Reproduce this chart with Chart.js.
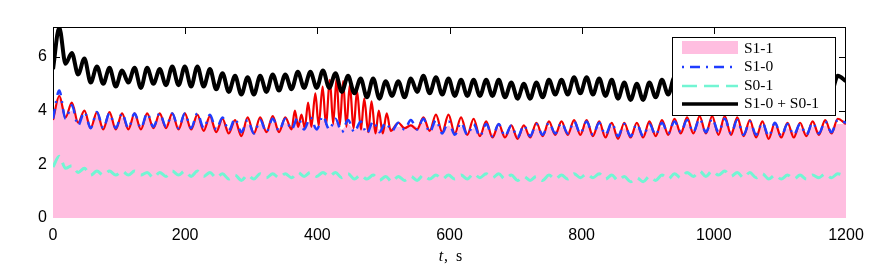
<!DOCTYPE html>
<html>
<head>
<meta charset="utf-8">
<script src="https://cdn.jsdelivr.net/npm/chart.js@4/dist/chart.umd.min.js"></script>
<style>
html,body{margin:0;padding:0;background:#fff;}
#wrap{width:872px;height:271px;position:relative;}
</style>
</head>
<body>
<div id="wrap"><canvas id="c" width="872" height="271"></canvas></div>
<script>
// ---- data ----
const xTicks = [0, 200, 400, 600, 800, 1000, 1200];
const yTicks = [0, 2, 4, 6];
const legendNames = ['S1-1', 'S1-0', 'S0-1', 'S1-0 + S0-1'];

// common time grid (s)
const t = [0,9.5,19,28.5,38,47.5,57,66.5,76,85.5,95,104.5,114,123.5,133,142.5,152,161.5,171,180.5,
190,199.5,209,218.5,228,237.5,247,256.5,266,275.5,285,294.5,304,313.5,323,332.5,342,351.5,361,370.5,
380,389.5,399,408.5,418,427.5,437,446.5,456,465.5,475,484.5,494,503.5,513,522.5,532,541.5,551,560.5,
570,579.5,589,598.5,608,617.5,627,636.5,646,655.5,665,674.5,684,693.5,703,712.5,722,731.5,741,750.5,
760,769.5,779,788.5,798,807.5,817,826.5,836,845.5,855,864.5,874,883.5,893,902.5,912,921.5,931,940.5,
950,959.5,969,978.5,988,997.5,1007,1016.5,1026,1035.5,1045,1054.5,1064,1073.5,1083,1092.5,1102,1111.5,1121,1130.5,
1140,1149.5,1159,1168.5,1178,1187.5,1200];

// S1-1 (filled area)
const s11 = [3.75,4.5,3.8,4.0,3.55,3.8,3.45,3.8,3.45,3.75,3.45,3.75,3.45,3.75,3.45,3.75,3.5,3.75,3.5,3.75,
3.45,3.75,3.45,3.75,3.45,3.7,3.4,3.6,3.35,3.55,3.3,3.5,3.25,3.5,3.3,3.55,3.35,3.55,3.4,3.6,
3.4,3.6,3.4,3.65,3.4,3.55,3.3,3.5,3.3,3.45,3.25,3.45,3.3,3.4,3.35,3.4,3.4,3.5,3.4,3.55,
3.3,3.5,3.25,3.45,3.2,3.4,3.2,3.35,3.15,3.35,3.15,3.35,3.15,3.3,3.1,3.3,3.15,3.35,3.2,3.4,
3.25,3.4,3.25,3.45,3.25,3.45,3.2,3.4,3.2,3.4,3.15,3.35,3.15,3.35,3.15,3.35,3.2,3.4,3.25,3.45,
3.3,3.5,3.3,3.55,3.3,3.55,3.3,3.55,3.25,3.5,3.2,3.45,3.2,3.4,3.15,3.4,3.15,3.35,3.2,3.35,
3.2,3.4,3.25,3.45,3.3,3.5,3.5];

// S1-0
const s10 = [3.7,4.75,3.7,4.2,3.45,3.95,3.35,3.95,3.35,3.9,3.35,3.9,3.35,3.9,3.35,3.9,3.4,3.9,3.4,3.9,
3.35,3.9,3.35,3.9,3.35,3.85,3.3,3.75,3.25,3.7,3.2,3.65,3.15,3.65,3.2,3.7,3.25,3.7,3.3,3.75,
3.3,3.75,3.3,3.8,3.3,3.7,3.2,3.65,3.2,3.6,3.15,3.6,3.2,3.55,3.25,3.55,3.3,3.65,3.3,3.7,
3.2,3.65,3.15,3.6,3.1,3.55,3.1,3.5,3.05,3.5,3.05,3.5,3.05,3.45,3.0,3.45,3.05,3.5,3.1,3.55,
3.15,3.55,3.15,3.6,3.15,3.6,3.1,3.55,3.1,3.55,3.05,3.5,3.05,3.5,3.05,3.5,3.1,3.55,3.15,3.6,
3.2,3.65,3.2,3.7,3.2,3.7,3.2,3.7,3.15,3.65,3.1,3.6,3.1,3.55,3.05,3.55,3.05,3.5,3.1,3.5,
3.1,3.55,3.15,3.6,3.2,3.65,3.55];

// S0-1
const s01 = [1.9,2.3,1.85,1.95,1.7,1.85,1.6,1.75,1.6,1.75,1.6,1.75,1.6,1.75,1.6,1.7,1.5,1.7,1.55,1.75,
1.6,1.75,1.55,1.75,1.55,1.7,1.5,1.65,1.45,1.6,1.4,1.6,1.45,1.65,1.5,1.65,1.5,1.65,1.5,1.7,
1.55,1.7,1.55,1.7,1.55,1.7,1.5,1.65,1.45,1.6,1.45,1.6,1.4,1.55,1.35,1.55,1.4,1.55,1.4,1.6,
1.45,1.6,1.45,1.6,1.45,1.6,1.45,1.65,1.5,1.65,1.5,1.65,1.45,1.6,1.4,1.55,1.4,1.55,1.4,1.6,
1.45,1.6,1.45,1.65,1.5,1.65,1.5,1.65,1.45,1.6,1.4,1.55,1.35,1.5,1.35,1.55,1.4,1.6,1.45,1.65,
1.5,1.7,1.55,1.75,1.55,1.75,1.6,1.75,1.55,1.7,1.5,1.7,1.5,1.65,1.45,1.6,1.45,1.6,1.45,1.6,
1.45,1.6,1.5,1.65,1.5,1.65,1.55];

// S1-0 + S0-1
const sSum = [5.55,7.1,5.75,6.15,5.35,5.95,5.05,5.65,5.0,5.6,4.9,5.5,5.05,5.6,4.85,5.6,5.0,5.55,4.95,5.65,
4.95,5.65,4.9,5.65,4.9,5.55,4.8,5.4,4.7,5.3,4.6,5.25,4.6,5.3,4.7,5.35,4.75,5.35,4.8,5.45,
4.85,5.45,4.85,5.5,4.85,5.4,4.7,5.3,4.65,5.2,4.5,5.2,4.45,5.1,4.55,5.1,4.5,5.2,4.7,5.3,
4.65,5.25,4.6,5.2,4.55,5.15,4.55,5.15,4.55,5.15,4.55,5.15,4.5,5.05,4.45,5.0,4.45,5.05,4.5,5.15,
4.6,5.15,4.6,5.25,4.65,5.25,4.6,5.2,4.55,5.15,4.45,5.05,4.4,5.0,4.4,5.05,4.5,5.15,4.6,5.25,
4.7,5.35,4.75,5.45,4.75,5.45,4.8,5.45,4.7,5.35,4.6,5.3,4.6,5.2,4.5,5.15,4.5,5.1,4.55,5.1,
4.55,5.15,4.65,5.25,4.7,5.3,5.1];

// red trace (own time base, denser in the 370-510 s burst)
const redT = [0,9.5,19,28.5,38,47.5,57,66.5,76,85.5,95,104.5,114,123.5,133,142.5,152,161.5,171,180.5,
190,199.5,209,218.5,228,237.5,247,256.5,266,275.5,285,294.5,304,313.5,323,332.5,342,351.5,361,
366,371,376,381,386,391,397,402,408,413,419,424,429,434,439,444,449,455,460,466,471,477,482,488,493,499,505,511,
522.5,532,541.5,551,560.5,570,579.5,589,598.5,608,617.5,627,636.5,646,655.5,665,674.5,684,693.5,703,712.5,722,731.5,741,750.5,
760,769.5,779,788.5,798,807.5,817,826.5,836,845.5,855,864.5,874,883.5,893,902.5,912,921.5,931,940.5,
950,959.5,969,978.5,988,997.5,1007,1016.5,1026,1035.5,1045,1054.5,1064,1073.5,1083,1092.5,1102,1111.5,1121,1130.5,
1140,1149.5,1159,1168.5,1178,1187.5,1200];
const redV = [3.65,4.55,3.75,4.3,3.55,4.0,3.35,3.95,3.3,3.95,3.3,3.9,3.3,3.9,3.3,3.9,3.35,3.9,3.35,3.9,
3.3,3.9,3.3,3.85,3.25,3.8,3.2,3.7,3.15,3.65,3.05,3.75,3.15,3.75,3.2,3.8,3.2,3.75,3.3,
4.0,3.4,3.85,3.35,4.3,3.4,4.65,3.45,4.9,3.5,5.15,3.5,5.2,3.45,5.1,3.4,4.95,3.35,4.75,3.3,4.45,3.2,4.35,3.15,4.0,3.15,3.9,3.25,
3.55,3.35,3.45,3.3,3.75,3.25,3.85,3.2,3.85,3.15,3.75,3.1,3.7,3.05,3.6,3.0,3.5,3.0,3.45,2.95,3.45,3.0,3.55,3.05,3.6,
3.1,3.6,3.1,3.65,3.1,3.65,3.05,3.6,3.0,3.55,2.95,3.55,3.0,3.55,3.0,3.6,3.05,3.65,3.1,3.7,
3.15,3.75,3.15,3.8,3.15,3.8,3.1,3.8,3.1,3.75,3.05,3.65,3.0,3.6,2.95,3.55,3.0,3.55,3.0,3.55,
3.05,3.6,3.1,3.65,3.15,3.7,3.5];

// ---- styles ----
const PINK = '#ffbee0', BLUE = '#1f3cff', CYAN = '#72f5d3', RED = '#f20000', BLACK = '#000000';
const pts = (arr) => t.map((x, i) => ({x: x, y: arr[i]}));

const framePlugin = {
  id: 'frame',
  beforeDatasetsDraw(chart) {
    const {ctx, chartArea: a, scales: {x, y}} = chart;
    ctx.save();
    ctx.strokeStyle = '#000';
    ctx.lineWidth = 1;
    ctx.strokeRect(a.left + 0.5, a.top + 0.5, a.right - a.left - 1, a.bottom - a.top - 1);
    ctx.beginPath();
    xTicks.slice(1, -1).forEach(v => {
      const px = Math.round(x.getPixelForValue(v)) + 0.5;
      ctx.moveTo(px, a.top); ctx.lineTo(px, a.top + 7);
      ctx.moveTo(px, a.bottom); ctx.lineTo(px, a.bottom - 7);
    });
    yTicks.slice(1).forEach(v => {
      const py = Math.round(y.getPixelForValue(v)) + 0.5;
      ctx.moveTo(a.left, py); ctx.lineTo(a.left + 7, py);
      ctx.moveTo(a.right, py); ctx.lineTo(a.right - 7, py);
    });
    ctx.stroke();
    ctx.restore();
  },
  afterDatasetsDraw(chart) {
    const {ctx} = chart;
    ctx.save();
    // legend box
    const bx = 672, by = 37, bw = 163, bh = 78;
    ctx.fillStyle = '#fff';
    ctx.fillRect(bx, by, bw, bh);
    ctx.strokeStyle = '#000';
    ctx.lineWidth = 1;
    ctx.strokeRect(bx + 0.5, by + 0.5, bw, bh);
    const rows = [49, 67, 86, 104];
    const x0 = 682, x1 = 738;
    // S1-1 patch
    ctx.fillStyle = PINK;
    ctx.fillRect(x0, 41, x1 - x0, 13);
    // S1-0
    ctx.strokeStyle = BLUE; ctx.lineWidth = 2.5; ctx.setLineDash([2, 6, 10, 6]);
    ctx.beginPath(); ctx.moveTo(x0, rows[1]); ctx.lineTo(x1, rows[1]); ctx.stroke();
    // S0-1
    ctx.strokeStyle = CYAN; ctx.lineWidth = 2.5; ctx.setLineDash([15, 7]);
    ctx.beginPath(); ctx.moveTo(x0, rows[2]); ctx.lineTo(x1, rows[2]); ctx.stroke();
    // sum
    ctx.strokeStyle = BLACK; ctx.lineWidth = 3.5; ctx.setLineDash([]);
    ctx.beginPath(); ctx.moveTo(x0, rows[3]); ctx.lineTo(x1, rows[3]); ctx.stroke();
    ctx.fillStyle = '#000';
    ctx.font = '15.5px "Liberation Serif"';
    ctx.textBaseline = 'middle';
    ctx.textAlign = 'left';
    legendNames.forEach((n, i) => ctx.fillText(n, 744, rows[i]));
    ctx.restore();
  },
  afterDraw(chart) {
    const {ctx} = chart;
    ctx.save();
    ctx.fillStyle = '#000';
    ctx.textBaseline = 'alphabetic';
    ctx.textAlign = 'left';
    ctx.font = 'italic 16px "Liberation Serif"';
    const w1 = ctx.measureText('t').width;
    ctx.font = '16px "Liberation Serif"';
    const w2 = ctx.measureText(',  s').width;
    let sx = 450 - (w1 + w2) / 2;
    ctx.font = 'italic 16px "Liberation Serif"';
    ctx.fillText('t', sx, 261);
    ctx.font = '16px "Liberation Serif"';
    ctx.fillText(',  s', sx + w1 + 1, 261);
    ctx.restore();
  }
};

Chart.defaults.font.family = '"Liberation Sans", Arial, sans-serif';
Chart.defaults.color = '#000';

new Chart(document.getElementById('c'), {
  type: 'line',
  data: {
    datasets: [
      {label: legendNames[3], data: pts(sSum), borderColor: BLACK, borderWidth: 4, order: 1},
      {label: legendNames[2], data: pts(s01), borderColor: CYAN, borderWidth: 3, borderDash: [13, 7], order: 2},
      {label: legendNames[1], data: pts(s10), borderColor: BLUE, borderWidth: 2.5, borderDash: [10, 6, 2, 6], order: 3},
      {label: 'S1-1 trace', data: redT.map((x, i) => ({x: x, y: redV[i]})), borderColor: RED, borderWidth: 2.2, order: 4},
      {label: legendNames[0], data: pts(s11), borderWidth: 0, borderColor: 'rgba(0,0,0,0)', backgroundColor: PINK, fill: 'origin', order: 5}
    ]
  },
  options: {
    responsive: false,
    animation: false,
    devicePixelRatio: 1,
    layout: {padding: {top: 27, right: 26, left: 0, bottom: 0}},
    elements: {
      point: {radius: 0},
      line: {cubicInterpolationMode: 'monotone', borderCapStyle: 'butt', borderJoinStyle: 'round'}
    },
    plugins: {legend: {display: false}, tooltip: {enabled: false}, title: {display: false}},
    scales: {
      x: {
        type: 'linear', min: 0, max: 1200,
        afterFit(s) { s.height = 53; },
        afterBuildTicks(s) { s.ticks = xTicks.map(v => ({value: v})); },
        grid: {display: false, drawTicks: false},
        border: {display: false},
        ticks: {font: {size: 16}, padding: 8, maxRotation: 0, autoSkip: false, callback: v => String(v)}
      },
      y: {
        type: 'linear', min: 0, max: 7.12,
        afterFit(s) { s.width = 53; },
        afterBuildTicks(s) { s.ticks = yTicks.map(v => ({value: v})); },
        grid: {display: false, drawTicks: false},
        border: {display: false},
        ticks: {font: {size: 16}, padding: 6, callback: v => String(v)}
      }
    }
  },
  plugins: [framePlugin]
});
</script>
</body>
</html>
